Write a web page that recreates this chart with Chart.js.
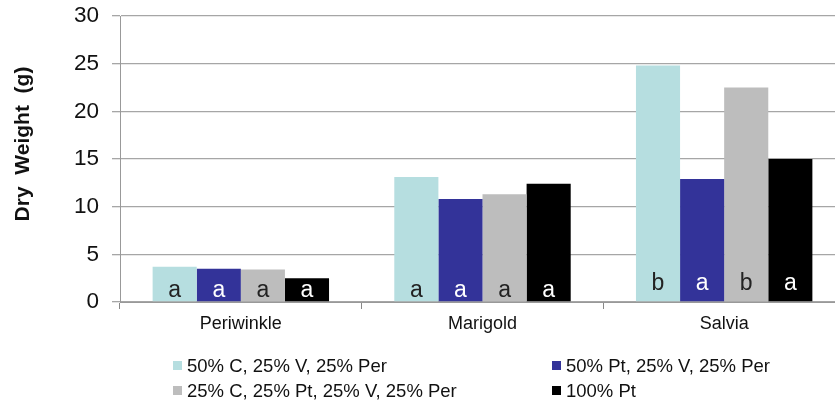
<!DOCTYPE html>
<html>
<head>
<meta charset="utf-8">
<script src="https://cdn.jsdelivr.net/npm/chart.js@4"></script>
<style>
	body { margin: 0; background: #fff; overflow: hidden; font-family: "Liberation Sans", Arial, sans-serif; }
	#wrap { position: relative; width: 845px; height: 402px; }
	.leg { position: absolute; font-size: 18.5px; line-height: 22px; color: #111; white-space: nowrap; }
	.leg span { display: inline-block; width: 9px; height: 9px; margin-right: 5px; vertical-align: 2px; }
</style>
</head>
<body>
<div id="wrap">
	<canvas id="dryChart" width="845" height="402"></canvas>
	<div id="legend"></div>
</div>
<script>
// 식물별 건조 중량
const plants = ['Periwinkle', 'Marigold', 'Salvia'];
const seriesNames = ['50% C, 25% V, 25% Per', '50% Pt, 25% V, 25% Per', '25% C, 25% Pt, 25% V, 25% Per', '100% Pt'];
const mixC = [3.7, 13.1, 24.8];
const mixPt = [3.5, 10.8, 12.9];
const mixCPt = [3.4, 11.3, 22.5];
const pt100 = [2.5, 12.4, 15.0];
const letters = [['a', 'a', 'b'], ['a', 'a', 'a'], ['a', 'a', 'b'], ['a', 'a', 'a']];
const yTicks = [0, 5, 10, 15, 20, 25, 30];

const colors = ['#b6dee0', '#333399', '#bdbdbd', '#000000'];
const letterColors = ['#222', '#fff', '#222', '#fff'];
const values = [mixC, mixPt, mixCPt, pt100];
const fontName = '"Liberation Sans", Arial, sans-serif';

document.addEventListener("DOMContentLoaded", function(){
	const ctx = document.getElementById('dryChart').getContext('2d');
	const datasets = [];
	for(let i = 0; i < values.length; i++){
		datasets.push({
			label: seriesNames[i],
			data: values[i],
			backgroundColor: colors[i],
			categoryPercentage: 0.73,
			barPercentage: 1.0
		});
	}
	// 막대 아래쪽 글자 (a, b) + 세로축 제목
	const letterPlugin = {
		id: 'letters',
		afterDatasetsDraw(chart) {
			const c = chart.ctx;
			c.save();
			c.font = '23px ' + fontName;
			c.textAlign = 'center';
			c.textBaseline = 'middle';
			chart.data.datasets.forEach((ds, i) => {
				chart.getDatasetMeta(i).data.forEach((bar, j) => {
					c.fillStyle = letterColors[i];
					const y = chart.scales.y.getPixelForValue(0) - (j == 2 ? 18 : 11);
					c.fillText(letters[i][j], bar.x, y);
				});
			});
			c.translate(23, 144);
			c.rotate(-Math.PI / 2);
			c.font = 'bold 21px ' + fontName;
			c.fillStyle = '#111';
			c.fillText('Dry  Weight  (g)', 0, 0);
			c.restore();
		}
	};
	new Chart(ctx, {
		type: 'bar',
		data: { labels: plants, datasets: datasets },
		plugins: [letterPlugin],
		options: {
			responsive: false,
			animation: false,
			layout: { padding: { top: 16, right: 0, left: 0, bottom: 0 } },
			plugins: { legend: { display: false }, tooltip: { enabled: false } },
			scales: {
				x: {
					grid: { display: true, drawOnChartArea: false, offset: true, color: '#888', tickLength: 7 },
					border: { color: '#999' },
					ticks: { color: '#111', font: { size: 18, family: fontName }, padding: 4 },
					afterFit: function(s) { s.height = 100; }
				},
				y: {
					min: 0, max: 30,
					afterBuildTicks: function(s) { s.ticks = yTicks.map(v => ({ value: v })); },
					grid: { color: '#a6a6a6', lineWidth: 1.3, tickLength: 8 },
					border: { color: '#999' },
					ticks: { color: '#111', font: { size: 22.5, family: fontName }, padding: 13 },
					afterFit: function(s) { s.width = 120; s.paddingTop = 0; s.paddingBottom = 0; }
				}
			}
		}
	});
	// 범례 (2열)
	const legPos = [[173, 355], [552, 355], [173, 380], [552, 380]];
	const legend = document.getElementById('legend');
	for(let i = 0; i < seriesNames.length; i++){
		const d = document.createElement('div');
		d.className = 'leg';
		d.style.left = legPos[i][0] + 'px';
		d.style.top = legPos[i][1] + 'px';
		d.innerHTML = '<span style="background:' + colors[i] + '"></span>' + seriesNames[i];
		legend.appendChild(d);
	}
});
</script>
</body>
</html>
